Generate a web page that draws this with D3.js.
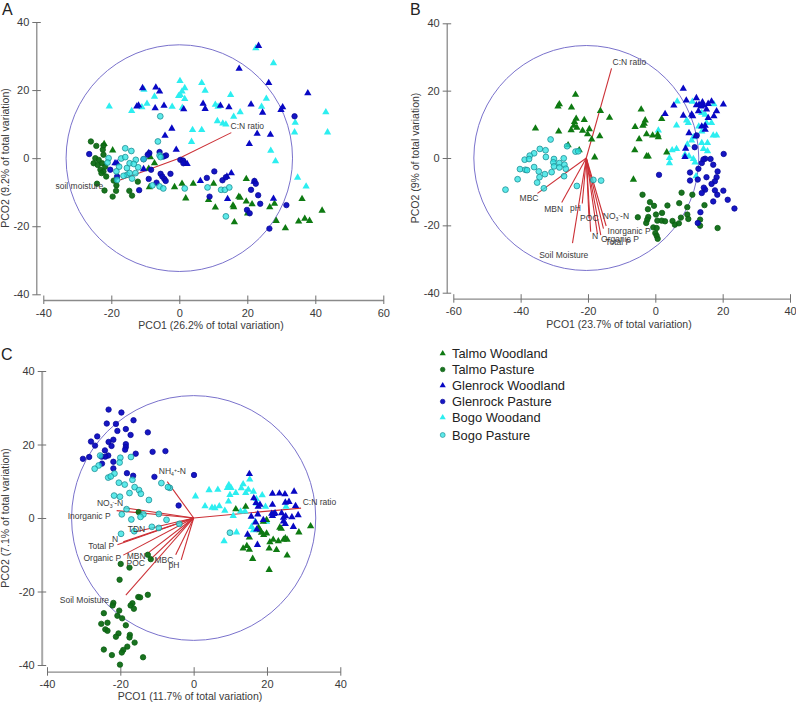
<!DOCTYPE html>
<html><head><meta charset="utf-8">
<script src="https://cdn.jsdelivr.net/npm/d3@7/dist/d3.min.js"></script>
<style>
html,body{margin:0;padding:0;background:#fff}
svg{display:block}
text{font-family:"Liberation Sans",Arial,sans-serif}
</style></head><body><svg id="c" width="796" height="703"></svg>
<script>
// ---------- Panel A ----------
const aTalmoWood=[[-22.1,4.2],[-19.6,2.3],[-8.5,.3],[-7.3,-1.5],[-9,-3.1],[-8.8,-8.5],[-1.4,-8.5],[.8,-7.5],[4.1,-7.5],[1.9,-11.8],[8.6,-12.3],[10.6,-14.5],[10.1,-7.5],[19.7,-6.1],[17.5,-11.3],[17.9,-11.6],[19.7,-12.7],[21.4,-13.5],[15.8,-13.9],[16,-14.4],[16.2,-18.8],[26.6,-14.4],[28,-13.4],[28.5,-18.4],[31.2,-20.6],[35.1,-18.6],[36.9,-17.8],[38.3,-18.4],[42,-15.4],[36.1,-12],[20.1,-16.2]];
const aTalmoPast=[[-26,4.9],[-24.4,3.6],[-22.3,3.7],[-22.5,2.5],[-22.3,1],[-24.7,0],[-25.2,-1.5],[-24,-2],[-22.7,-1.5],[-23.2,-3.4],[-22.3,-3.9],[-21.5,-5.4],[-24.2,-7.5],[-22,-9.5],[-19.3,-6.6],[-18.5,-8],[-18.6,-9.6],[-19.6,-11.3],[-14.7,-9.6],[-13.9,-11],[-12.2,-6.9],[-23.7,-.5],[-21.8,-2.5],[-22.9,-4.4]];
const aGlenWood=[[23.3,33],[17.6,26.3],[26.3,22.1],[37.8,19.1],[-10.8,20.6],[-6.9,20.8],[-5.8,19.6],[-12.5,15.2],[-12,15.5],[-7.1,14.7],[-4.5,15.4],[1.3,14.4],[7,16],[7.6,14.5],[12.1,15.4],[14.6,15],[21.1,15.8],[24.5,13.4],[30.4,15],[29.9,14.2],[-2.2,8.7],[-4.2,6.6],[-.9,2.5],[22.9,7.2],[26.8,6.9],[20.6,4.2],[1.8,-1.5],[2.3,-1.7],[15.3,-4.4],[6.2,-6.7],[14,-5.4],[22,-6.9],[14.2,-12],[27.7,-11.9],[-18.3,-1.5],[-18.9,-1.5],[-10.5,-3.2],[-9,1.5]];
const aGlenPast=[[-26.5,1.2],[33.9,12.3],[-8.8,1.5],[-9.3,1],[-5.8,1.8],[-3.9,.8],[-4.6,.5],[-10.5,-.3],[.3,-.5],[1.1,-.7],[1.2,-1.5],[-20.3,-3.4],[-18.3,-5.4],[-9,-6.1],[-8.3,-3.4],[-6.7,-7.2],[-11.8,-9.4],[-5.5,-4.6],[-5,-5.4],[-4.4,-6.1],[-4,-6.7],[-2.6,-4.6],[10.3,-3.9],[8.1,-5.8],[8.9,-11.3],[12.7,-6.5],[13.7,-5.6],[22.1,-6.7],[22.5,-7.5],[21.1,-9.3],[23.2,-10.9],[23.8,-13.4],[19.9,-15.2],[20.7,-16.2],[31.5,-13.8],[26.5,-20.7]];
const aBogoWood=[[22.5,32.3],[27.7,27.9],[.2,22.7],[6.6,22.1],[7.6,19.8],[-10.4,20.1],[1.6,20.6],[.8,19.6],[.3,18.6],[-.2,18.3],[-7.3,18.1],[1.6,17.4],[15.1,18.6],[25.6,17.5],[-20.6,15.2],[-14,13.9],[-11,15],[-9.5,16],[-2.1,15.1],[.9,14.8],[10.6,15.7],[11.4,15.1],[16,12.2],[17.9,13.5],[24.2,15.1],[11.2,10.9],[12.8,10.2],[13.7,9.9],[3.9,8.3],[6.6,8.3],[3.6,4.8],[34.1,10.4],[33.9,7.6],[43.1,13.5],[43.6,7.6],[26.9,2.2],[28.3,-.9],[34.8,-5.7],[37.3,-8.3]];
const aBogoPast=[[-5.6,12.3],[-6.3,4.9],[-15.9,2.9],[-14.1,2.1],[-20.8,0],[-21.1,-1.3],[-17.1,-.1],[-15.9,.3],[-12.8,-.5],[-17.7,-2.5],[-18.5,-3.9],[-15.4,-2.9],[-14.6,-1.5],[-12.1,-2.7],[-10.5,-.3],[-13.4,-1.7],[-15.4,-4.9],[-16.4,-5.2],[-14.6,-4.4],[-13.9,-6],[-12.9,-4.4],[-18.3,-6.4],[-5.8,.8],[-5.5,.3],[-7.9,-8],[-5.8,-8.3],[-4.7,-8.9],[1.6,-8.9],[8.3,-8.6],[12.3,-9.3],[13.4,-9.3],[14.7,-8.6],[13.7,-17.1]];
const aVectorNames=["C:N ratio","soil moisture"];
const aVectorEnds=[[15.3,7.5],[-17.4,-6.4]];
const aLabelSpots=[[20,9.3],[-29.4,-8.2]];

// ---------- Panel B ----------
const bTalmoWood=[[-23.7,18.8],[-28.5,16],[-28.9,15.3],[-24.9,15],[-16.3,14],[-13.6,12],[-23.5,11.7],[-21.1,11.3],[-24,10.7],[-24.2,9.6],[-23.3,9],[-25,8.3],[-35.6,8.8],[-28.7,7.9],[-21.6,8.1],[-19.6,8.6],[-20.1,7.1],[-16.5,6.5],[-18.9,5.5],[-25.9,3.8],[-22.6,2.3],[-18,.2],[-4.2,14.4],[-6,9.2],[-3,11.2],[-3.3,10.2],[-3.7,9.6],[1.9,11.6],[-4.8,5.6],[-2.6,7.1],[-.8,6.7],[.7,6.9],[.9,6.2],[-6.1,2.3],[-2.6,.5],[-2.1,.5],[3.4,1.7],[-6.5,-6.4]];
const bTalmoPast=[[-3.8,-10.9],[-1.6,-13.1],[-.4,-14.2],[-2.2,-15.2],[-5.2,-17.6],[-2.1,-17.5],[-2.4,-18.3],[-2.7,-19.3],[.2,-16.8],[2,-16.3],[3.6,-14.1],[7.8,-10.3],[7.1,-13.4],[9.5,-14.6],[11,-10.9],[.6,-18.6],[1.9,-18.6],[2.9,-18.8],[5.1,-18.7],[5.8,-19.8],[7,-19.4],[7.6,-17.7],[9.5,-16.8],[9.8,-18.1],[13.3,-18.3],[13.3,-20.1],[18.5,-20.8],[-.6,-20.6],[.4,-20.8],[0,-22.3],[.4,-23.1],[.7,-24],[14.6,-14]];
const bGlenWood=[[8.3,20.6],[9.2,17.1],[12.2,17.8],[5.5,15.6],[2.9,13.1],[8.3,12.6],[10.8,12.9],[11.1,12.4],[13,15.8],[13.6,15.3],[14.3,15.6],[14,16.6],[15.7,16.1],[16.7,16.8],[20.2,15.9],[18.2,13.9],[17.4,12.4],[15.7,11.9],[13.8,9.4],[14.8,9.6],[10,7.4],[9,2.8],[8.8,.3],[12.8,13.9],[15.2,14.4],[12.2,15.7],[14.8,8.4],[12,6.5]];
const bGlenPast=[[20.3,1.2],[11.7,3.2],[1.1,-5],[14.8,-.2],[16.4,-.3],[13.8,-1.5],[17.2,-2],[12.8,-3.2],[10.3,-4.3],[18.5,-4],[15.2,-5.7],[12.6,-6.4],[10.3,-6.7],[18.2,-5.7],[17.7,-6.9],[16.7,-7.7],[14.8,-9.4],[13.8,-10.4],[17.7,-9.6],[20.2,-9.7],[18.4,-10.9],[17.2,-12.9],[21.5,-12.4],[23.5,-15],[13.4,-16.1],[12.6,-19.3],[12.3,6.7],[14.4,-8.8],[14.3,-.4]];
const bBogoWood=[[6.5,16.8],[11,16.7],[13.8,13.4],[17.4,16],[15.2,10.4],[16.7,10.4],[9.8,10.4],[6.3,9.7],[.9,8.2],[13.8,7.9],[11.3,6.2],[10.8,5.2],[17.2,6.7],[18.2,6.7],[13.8,4.5],[15.5,4.5],[14.3,2.7],[15.5,2],[9.5,4],[6.3,2.7],[5,2.3],[10,.5],[11.3,-.3],[11.8,-1.3],[4.2,0],[4.2,-1.5],[12.1,-5.4],[8.8,1],[12.9,9.4],[9.3,11.2],[14.8,12.9]];
const bBogoPast=[[-31.1,5.5],[-34.3,2.7],[-32.6,2.3],[-36,1.4],[-37.3,.7],[-32.5,.3],[-38.8,-.5],[-37.5,-.3],[-30.1,-.3],[-30.3,-1.3],[-27.2,-.1],[-26.2,3.5],[-23.7,1.9],[-22.9,2],[-28.5,-1.5],[-27,-2],[-30.1,-2.5],[-28.5,-2.8],[-26.6,-3.2],[-36,-2.7],[-40.2,-3.3],[-38.6,-3.5],[-38.1,-3.6],[-34.6,-4],[-30.8,-4.2],[-32.8,-4.8],[-34.4,-5.7],[-27.1,-5.4],[-40.9,-6.3],[-35.1,-7.3],[-44.5,-9.4],[-33.1,-9],[-23.3,-8.3],[-16.1,-6.7],[-18.4,-6.5]];
const bVectorNames=["C:N ratio","MBC","MBN","pH","POC","NO3-N","Inorganic P","N","Total P","Organic P","Soil Moisture"];
const bVectorEnds=[[-13,26.6],[-35,-10.5],[-27.8,-13.2],[-21.7,-13.5],[-19.7,-17.9],[-14.6,-20.2],[-15.4,-21],[-19.2,-21.9],[-16.2,-22.9],[-17.2,-22.6],[-24.6,-25.3]];
const bLabelSpots=[[-7.7,28.4],[-37.5,-12],[-30.2,-15.3],[-23.7,-14.9],[-19.6,-17.8],[-11.7,-17.1],[-7.8,-21.6],[-17.9,-23.2],[-11,-25],[-10.5,-24],[-27.2,-28.7]];

// ---------- Panel C ----------
const cTalmoWood=[[14.2,3.1],[11.5,2.4],[31.9,-2.2],[28.7,-3.9],[23.5,-2.6],[23.9,-2.9],[17.7,-2.6],[18.1,-3.3],[18.5,-4],[19.1,-4.6],[19.9,-4.2],[15.2,-5.3],[21.7,-5.9],[20.8,-6.6],[23.1,-6.3],[24.5,-5.9],[25,-5.5],[25.5,-5.9],[14.5,-7.6],[13.5,-8.3],[15.2,-8.6],[16.1,-11.1],[20.6,-8.3],[22.6,-8.7],[25.5,-10.2],[20.6,-14.1],[19,-1],[19.9,-.5]];
const cTalmoPast=[[-15,1.6],[-12.5,-10],[-11.7,-11.2],[-19.9,-12.5],[-17.5,-13.5],[-20.2,-16.8],[-12.5,-20.9],[-15.1,-21.5],[-14.6,-21.6],[-21.9,-23.1],[-22.1,-23.8],[-16.7,-23.2],[-17.2,-23.8],[-16.3,-24.7],[-20.3,-25.2],[-24.5,-25.9],[-20.8,-26.6],[-19.5,-27.3],[-25.2,-28.8],[-23.5,-28.5],[-18.5,-29.2],[-24.1,-30.3],[-23.5,-30.7],[-20.5,-31.4],[-21.2,-32.3],[-17.4,-31.8],[-17.5,-32.5],[-16.1,-33.9],[-18.1,-35],[-19.2,-35.9],[-19.6,-36.6],[-24.5,-35.8],[-22.3,-37.3],[-13.8,-37.9],[-20.1,-39.9]];
const cGlenWood=[[15.2,12],[16.4,5.4],[21.5,6.6],[23.4,6.7],[24.9,6.5],[27.4,7.2],[25,4.2],[26,4.4],[27.8,3.3],[21.5,3.6],[18.1,3.6],[17.6,3.1],[17,4.1],[15.7,.4],[17.5,1],[21.3,1.2],[21.9,1.1],[22.2,1.3],[21.5,.6],[24,1.3],[25.1,.5],[24.5,.1],[26.8,.2],[28.5,.8],[16.9,-1.2],[24.5,-.9],[25,-1.6],[27.2,-2.4],[19,-.5],[17.2,-3.1],[14.7,-4.5],[17.4,-7.3]];
const cGlenPast=[[-23.2,29.5],[-19.7,28.7],[-16.4,26.6],[-23.7,25.7],[-21.2,25.6],[-12.5,23.3],[-20.8,23.7],[-18.5,24.2],[-17.2,22.6],[-26.3,22.2],[-28,20.8],[-26.9,19.7],[-23.2,20.7],[-21.9,21.3],[-22.4,19.6],[-18.5,20.1],[-18.5,19.3],[-18.7,18.6],[-11.2,18],[-7.7,18.2],[-24.2,18.4],[-15.8,17.5],[-23.3,17],[-24.1,16.7],[-25.1,16.7],[-28.5,16.6],[-30.2,16.1],[-21.9,15.3],[-25,14.8],[-21.9,13.5],[-18.2,12.2],[-16.5,11.5],[-10.7,11.2],[.1,11.7],[-4.1,3.4]];
const cBogoWood=[[.5,5.9],[4.2,7.6],[6.6,7.7],[9.6,9],[9.2,8.2],[10.2,8.2],[13.5,9.2],[15.3,10.5],[13,8.1],[14.9,7.7],[16.3,7.2],[11.5,6.8],[9.9,6.3],[14.2,6.8],[9.5,4.5],[18.7,6.2],[17.1,5.2],[3.1,3.2],[5.8,2.7],[7,3.2],[5,2.8],[8.5,2],[10.8,.6],[12.8,1.8],[14,1.8],[19.6,3.1],[25.2,3.1],[11.7,-3.9],[8.3,-6.3],[15.8,-2.4],[16.3,-3.3],[16.8,-1],[19.9,-1],[17.2,4]];
const cBogoPast=[[-25.5,17],[-20,16.4],[-20.2,15.1],[-17.1,16.6],[-25.9,14.3],[-27,13.4],[-21.6,12.1],[-23.3,11],[-22.6,11.3],[-20.4,9.6],[-18.8,9.1],[-16.7,10.4],[-16.1,8.4],[-14.9,7.6],[-17.5,6.8],[-14.4,6.6],[-21.7,6.1],[-20.1,5.8],[-12.2,4.9],[-8.8,9.5],[-6.5,8.2],[-7,8.4],[-18.3,2.4],[-19.6,1],[-17,-.4],[-13.7,1],[-14.5,.3],[-9.5,1.1],[-7.4,-.5],[-11.4,-2.4],[-9.5,-2.7],[-3.9,-1.6],[-16.2,-3.6],[-19.8,-4.3],[9.9,-4]];
const cVectorNames=["C:N ratio","NH4-N","NO3-N","Inorganic P","TDN","N","Total P","Organic P","MBN","POC","MBC","pH","Soil Moisture"];
const cVectorEnds=[[29.3,2.7],[-7.2,9.9],[-19,2.8],[-21,2],[-16,-3.8],[-19.2,-6.5],[-20.8,-7.3],[-19.2,-10.1],[-12.4,-9.5],[-11.9,-11.4],[-4.9,-10],[-3.4,-11.4],[-18.5,-21]];
const cLabelSpots=[[34.3,4.4],[-5.8,12.9],[-22.8,4.2],[-28.5,.6],[-15.6,-3],[-21.4,-5.7],[-25.2,-7.6],[-24.9,-10.8],[-15.7,-10.3],[-15.8,-12.3],[-8.1,-11.4],[-5.4,-12.8],[-29.8,-22.3]];

// ---------- Legend ----------
const legendNames=["Talmo Woodland","Talmo Pasture","Glenrock Woodland","Glenrock Pasture","Bogo Woodand","Bogo Pasture"];

const RED="#cc3036",CIRC="#7a72cc",AXIS="#707070",TXT="#3a3a3a";
const styles={
 talmoW:{shape:"tri",fill:"#0e7a12",stroke:"none"},
 talmoP:{shape:"dot",fill:"#0d6b14",stroke:"#0d6014"},
 glenW:{shape:"tri",fill:"#0808c4",stroke:"none"},
 glenP:{shape:"dot",fill:"#0a0ac0",stroke:"#0a0a9a"},
 bogoW:{shape:"tri",fill:"#2ceef0",stroke:"none"},
 bogoP:{shape:"dot",fill:"#2fe3e3",stroke:"#1f8f96"}
};
const svg=d3.select("#c");
const tri=d3.symbol(d3.symbolTriangle,23)();

function mark(sel,st){
  if(st.shape==="tri") sel.append("path").attr("d",tri).attr("fill",st.fill).attr("stroke",st.stroke);
  else sel.append("circle").attr("r",st===styles.bogoP?2.9:2.7).attr("fill",st.fill).attr("stroke",st.stroke).attr("stroke-width",.8).attr("fill-opacity",st===styles.bogoP?.78:.95);
}

function label(g,name,x,y,size){
  const t=g.append("text").attr("x",x).attr("y",y).attr("text-anchor","middle").attr("dy","0.35em")
    .attr("font-size",size).attr("fill",TXT);
  const m=/^(N[OH])([34])-N$/.exec(name);
  if(m){
    const ch=m[1]==="NO"?"-":"+";
    t.append("tspan").text(m[1]);
    t.append("tspan").attr("font-size",size*.6).attr("dy",2).text(m[2]);
    t.append("tspan").attr("font-size",size*.6).attr("dy",-4).text(ch);
    t.append("tspan").attr("dy",2).text("-N");
  } else t.text(name);
}

function panel(o){
  const g=svg.append("g");
  const x=d3.scaleLinear().domain(o.xDom).range(o.xRange);
  const y=d3.scaleLinear().domain([-40,40]).range(o.yRange);
  const ax=d3.axisBottom(x).tickValues(d3.range(o.xDom[0],o.xDom[1]+1,20)).tickSizeOuter(0).tickFormat(String);
  const ay=d3.axisLeft(y).tickValues([-40,-20,0,20,40]).tickSizeOuter(0).tickFormat(String);
  const gx=g.append("g").attr("transform",`translate(0,${o.axisY})`).call(ax);
  const gy=g.append("g").attr("transform",`translate(${o.axisX},0)`).call(ay);
  gx.selectAll(".tick line").attr("y1",-4.5).attr("y2",4).attr("stroke",AXIS);
  gy.selectAll(".tick line").attr("x1",4.5).attr("x2",-4).attr("stroke",AXIS);
  gx.select(".domain").attr("stroke","#8a8a8a").attr("stroke-width",1.3);
  gy.select(".domain").attr("stroke",o.yThick?"#a8a8a8":"#808080").attr("stroke-width",o.yThick?2:1.2);
  gx.selectAll("text").attr("font-size",11).attr("fill",TXT).attr("y",9).attr("dy","0.71em").style("font-family",'"Liberation Sans"');
  gy.selectAll("text").attr("font-size",11).attr("fill",TXT).attr("x",-7).style("font-family",'"Liberation Sans"');
  g.append("text").attr("x",o.xTitle[0]).attr("y",o.xTitle[1]).attr("text-anchor","middle").attr("font-size",10.5).attr("fill",TXT).text(o.xLabel);
  g.append("text").attr("transform",`translate(${o.yTitle[0]},${o.yTitle[1]}) rotate(-90)`).attr("text-anchor","middle").attr("font-size",10.5).attr("fill",TXT).text(o.yLabel);
  g.append("text").attr("x",o.letter[0]).attr("y",o.letter[1]).attr("font-size",16).attr("fill","#222").text(o.letter[2]);
  // correlation circle
  const cx=x(o.origin[0]),cy=y(o.origin[1]);
  g.append("ellipse").attr("cx",cx).attr("cy",cy)
    .attr("rx",Math.abs(x(o.radius)-x(0))).attr("ry",Math.abs(y(o.radius)-y(0)))
    .attr("fill","none").attr("stroke",CIRC).attr("stroke-width",1);
  // vectors lie under the symbols
  g.selectAll(".v").data(o.ends).join("line").attr("x1",cx).attr("y1",cy)
    .attr("x2",d=>x(d[0])).attr("y2",d=>y(d[1])).attr("stroke",RED).attr("stroke-width",1.1);
  o.series.forEach(([pts,st])=>{
    g.append("g").selectAll("g").data(pts).join("g")
      .attr("transform",d=>`translate(${x(d[0])},${y(d[1])})`).call(mark,st);
  });
  o.names.forEach((n,i)=>label(g,n,x(o.spots[i][0]),y(o.spots[i][1]),8.5));
}

panel({xDom:[-40,60],xRange:[43.3,383.3],yRange:[294.3,22],axisX:36.3,axisY:300,
 origin:[0,0],radius:33.3,ends:aVectorEnds,names:aVectorNames,spots:aLabelSpots,
 xLabel:"PCO1 (26.2% of total variation)",yLabel:"PCO2 (9.2% of total variation)",
 xTitle:[211,329],yTitle:[9,158],letter:[2,15,"A"],
 series:[[aBogoWood,styles.bogoW],[aTalmoWood,styles.talmoW],[aTalmoPast,styles.talmoP],[aGlenWood,styles.glenW],[aGlenPast,styles.glenP],[aBogoPast,styles.bogoP]]});
panel({xDom:[-60,40],xRange:[453.3,790],yRange:[292.7,23.3],axisX:446.7,axisY:298.7,
 origin:[-20.5,0],radius:33.4,ends:bVectorEnds,names:bVectorNames,spots:bLabelSpots,
 xLabel:"PCO1 (23.7% of total variation)",yLabel:"PCO2 (9% of total variation)",
 xTitle:[619,328],yTitle:[419,158],letter:[410,15,"B"],
 series:[[bBogoWood,styles.bogoW],[bTalmoWood,styles.talmoW],[bTalmoPast,styles.talmoP],[bGlenWood,styles.glenW],[bGlenPast,styles.glenP],[bBogoPast,styles.bogoP]]});
panel({xDom:[-40,40],xRange:[47,340.3],yRange:[665,371],axisX:41.7,axisY:671.7,yThick:true,
 origin:[0,0],radius:33.3,ends:cVectorEnds,names:cVectorNames,spots:cLabelSpots,
 xLabel:"PCO1 (11.7% of total variation)",yLabel:"PCO2 (7.1% of total variation)",
 xTitle:[190,700],yTitle:[9,518],letter:[1,360,"C"],
 series:[[cBogoWood,styles.bogoW],[cTalmoWood,styles.talmoW],[cTalmoPast,styles.talmoP],[cGlenWood,styles.glenW],[cGlenPast,styles.glenP],[cBogoPast,styles.bogoP]]});

// legend
const legendStyles=[styles.talmoW,styles.talmoP,styles.glenW,styles.glenP,styles.bogoW,styles.bogoP];
const legendY=d3.scalePoint().domain(legendNames.slice(0,5)).range([353.5,417.5]);
const legend=svg.append("g");
legendNames.forEach((n,i)=>{
  const yy=i<5?legendY(n):435;
  const m=legend.append("g").attr("transform",`translate(442.7,${yy}) scale(.85)`);
  mark(m,legendStyles[i]);
  legend.append("text").attr("x",452).attr("y",yy).attr("dy","0.35em").attr("font-size",12.9).attr("fill","#222").text(n);
});
</script></body></html>
